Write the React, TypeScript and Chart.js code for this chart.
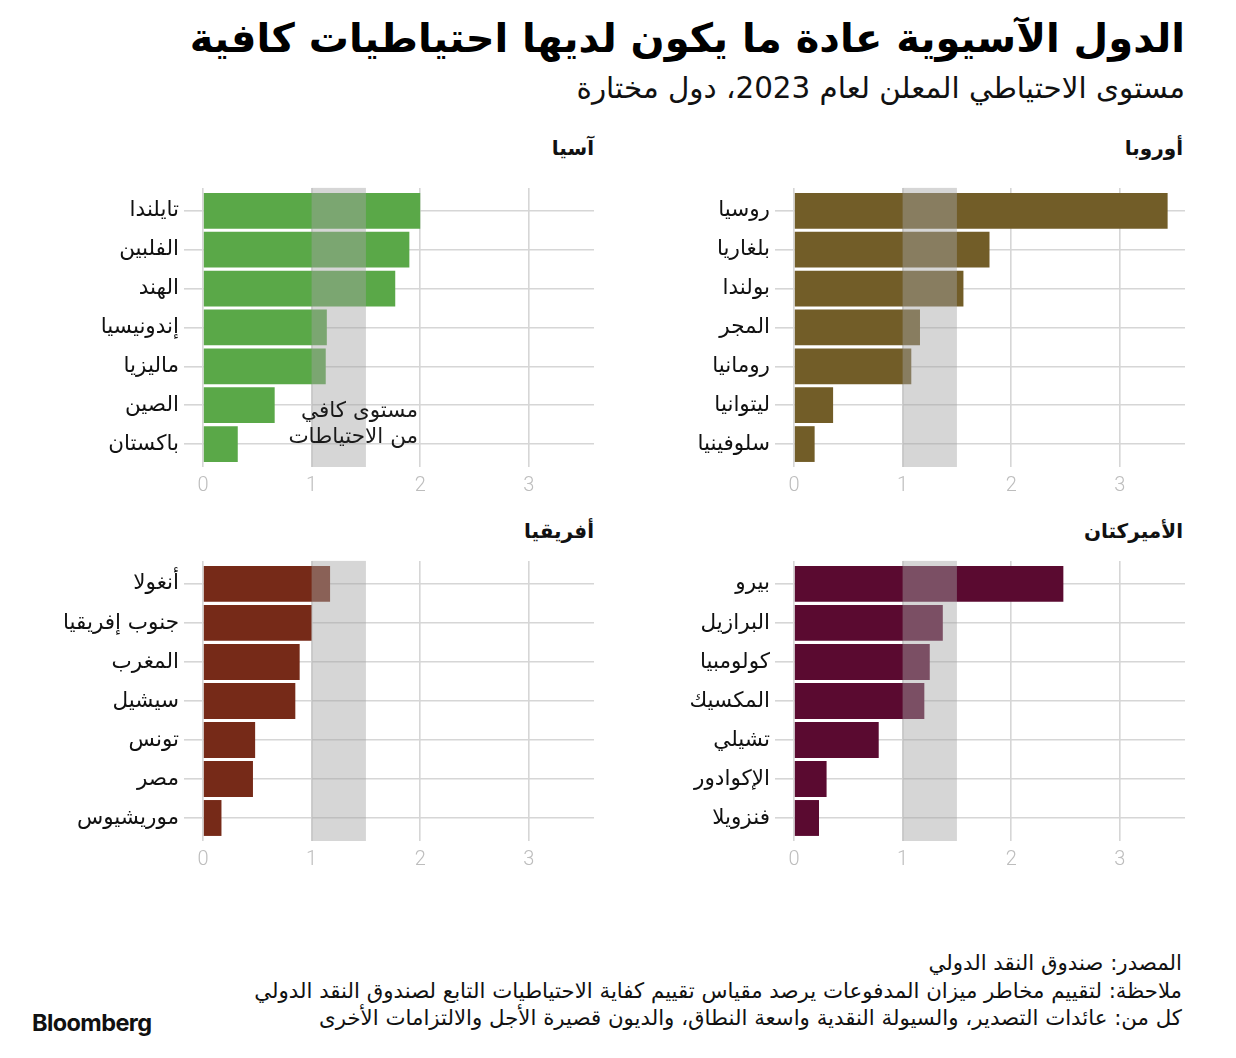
import React, { useEffect, useRef } from "react";
import { Chart, registerables } from "chart.js";

Chart.register(...registerables);

// ---------- data ----------
const europeCountries = ["روسيا", "بلغاريا", "بولندا", "المجر", "رومانيا", "ليتوانيا", "سلوفينيا"];
const europeValues = [3.44, 1.8, 1.56, 1.16, 1.08, 0.36, 0.19];

const asiaCountries = ["تايلندا", "الفلبين", "الهند", "إندونيسيا", "ماليزيا", "الصين", "باكستان"];
const asiaValues = [2.0, 1.9, 1.77, 1.14, 1.13, 0.66, 0.32];

const americasCountries = ["بيرو", "البرازيل", "كولومبيا", "المكسيك", "تشيلي", "الإكوادور", "فنزويلا"];
const americasValues = [2.48, 1.37, 1.25, 1.2, 0.78, 0.3, 0.23];

const africaCountries = ["أنغولا", "جنوب إفريقيا", "المغرب", "سيشيل", "تونس", "مصر", "موريشيوس"];
const africaValues = [1.17, 1.0, 0.89, 0.85, 0.48, 0.46, 0.17];

const xTicks = [0, 1, 2, 3];
const xMin = 0;
const xMax = 3.6;
const adequateBand = [1, 1.5];
const annotationLines = ["مستوى كافي", "من الاحتياطات"];
const annotationAnchor = { x: 1.98, y: 5.15 };

const titleText = "الدول الآسيوية عادة ما يكون لديها احتياطيات كافية";
const subtitleText = "مستوى الاحتياطي المعلن لعام 2023، دول مختارة";
const footerLines = [
  "المصدر: صندوق النقد الدولي",
  "ملاحظة: لتقييم مخاطر ميزان المدفوعات يرصد مقياس تقييم كفاية الاحتياطيات التابع لصندوق النقد الدولي",
  "كل من: عائدات التصدير، والسيولة النقدية واسعة النطاق، والديون قصيرة الأجل والالتزامات الأخرى",
];

const AR_FONT = "'DejaVu Sans', sans-serif";
const GRID = "#d6d6d6";

// ---------- plugin: adequacy band + annotation ----------
const bandPlugin = {
  id: "bandPlugin",
  afterDatasetsDraw(chart: any, _args: any, opts: any) {
    const { ctx, chartArea, scales } = chart;
    const x = scales.x;
    const y = scales.y;
    const x0 = x.getPixelForValue(adequateBand[0]);
    const x1 = x.getPixelForValue(adequateBand[1]);
    ctx.save();
    ctx.fillStyle = "rgba(165,165,165,0.45)";
    ctx.fillRect(x0, chartArea.top, x1 - x0, chartArea.bottom - chartArea.top);
    if (opts && opts.annotate) {
      ctx.fillStyle = "#1a1a1a";
      ctx.font = "21.5px " + AR_FONT;
      ctx.textAlign = "right";
      ctx.textBaseline = "middle";
      const ax = x.getPixelForValue(annotationAnchor.x);
      const ay = y.getPixelForValue(annotationAnchor.y);
      annotationLines.forEach((line, i) => {
        ctx.fillText(line, ax, ay + i * 26);
      });
    }
    ctx.restore();
  },
};

type PanelProps = {
  countries: string[];
  values: number[];
  color: string;
  left: number;
  top: number;
  height: number;
  annotate?: boolean;
};

function Panel({ countries, values, color, left, top, height, annotate }: PanelProps) {
  const ref = useRef<HTMLCanvasElement | null>(null);
  useEffect(() => {
    if (!ref.current) return;
    const chart = new Chart(ref.current, {
      type: "bar",
      data: {
        datasets: [
          {
            data: values.map((v, i) => ({ x: v, y: i })),
            backgroundColor: color,
            borderWidth: 0,
            barPercentage: 0.92,
            categoryPercentage: 1,
          },
        ],
      },
      options: {
        indexAxis: "y",
        animation: false,
        responsive: false,
        maintainAspectRatio: false,
        layout: { padding: { top: 17, right: 5, left: 0, bottom: 0 } },
        plugins: {
          legend: { display: false },
          tooltip: { enabled: false },
          bandPlugin: { annotate: !!annotate },
        } as any,
        scales: {
          x: {
            type: "linear",
            min: xMin,
            max: xMax,
            offset: false,
            position: "bottom",
            afterBuildTicks: (s: any) => {
              s.ticks = xTicks.map((v) => ({ value: v }));
            },
            afterFit: (s: any) => {
              s.height = 40;
            },
            grid: { color: GRID, lineWidth: 1.6, drawTicks: false, offset: false },
            border: { display: false },
            ticks: {
              color: "#bdbdbd",
              padding: 7,
              font: { family: "Roboto, sans-serif", size: 20, weight: 300 },
            },
          },
          y: {
            type: "linear",
            reverse: true,
            offset: false,
            min: -0.59,
            max: countries.length - 1 + 0.59,
            afterBuildTicks: (s: any) => {
              s.ticks = countries.map((_, i) => ({ value: i }));
            },
            afterFit: (s: any) => {
              s.width = 180;
            },
            grid: {
              color: GRID,
              lineWidth: 1.6,
              drawTicks: true,
              tickLength: 19,
              tickColor: GRID,
              offset: false,
            },
            border: { display: false },
            ticks: {
              autoSkip: false,
              padding: 5,
              color: "#111",
              font: { family: AR_FONT, size: 21.5 },
              callback: (v: any) => countries[Math.round(Number(v))] ?? "",
            },
          },
        },
      } as any,
      plugins: [bandPlugin as any],
    });
    return () => chart.destroy();
  }, []);
  return (
    <canvas
      ref={ref}
      width={576}
      height={height}
      style={{ position: "absolute", left, top, width: 576, height, display: "block" }}
    />
  );
}

const heading: React.CSSProperties = {
  position: "absolute",
  direction: "rtl",
  fontFamily: AR_FONT,
  fontWeight: 700,
  fontSize: 20,
  lineHeight: "24px",
  color: "#111",
  whiteSpace: "nowrap",
};

export default function App() {
  return (
    <div
      style={{
        position: "absolute",
        left: 0,
        top: 0,
        width: 1236,
        height: 1058,
        background: "#fff",
        overflow: "hidden",
      }}
    >
      <div
        dir="rtl"
        style={{
          position: "absolute",
          right: 51,
          top: 14,
          fontFamily: AR_FONT,
          fontWeight: 700,
          fontSize: 40,
          lineHeight: "48px",
          color: "#000",
          whiteSpace: "nowrap",
        }}
      >
        {titleText}
      </div>
      <div
        dir="rtl"
        style={{
          position: "absolute",
          right: 51,
          top: 71,
          fontFamily: AR_FONT,
          fontSize: 29.4,
          lineHeight: "34px",
          color: "#111",
          whiteSpace: "nowrap",
        }}
      >
        {subtitleText}
      </div>

      <div style={{ ...heading, right: 53, top: 136 }}>أوروبا</div>
      <div style={{ ...heading, right: 642, top: 136 }}>آسيا</div>
      <div style={{ ...heading, right: 53, top: 519 }}>الأميركتان</div>
      <div style={{ ...heading, right: 642, top: 519 }}>أفريقيا</div>

      <Panel countries={europeCountries} values={europeValues} color="#725d28" left={614} top={170} height={337} />
      <Panel countries={asiaCountries} values={asiaValues} color="#5aa848" left={23} top={170} height={337} annotate />
      <Panel countries={americasCountries} values={americasValues} color="#5a0a30" left={614} top={543} height={338} />
      <Panel countries={africaCountries} values={africaValues} color="#762a18" left={23} top={543} height={338} />

      <div
        dir="rtl"
        style={{
          position: "absolute",
          right: 54,
          top: 949,
          fontFamily: AR_FONT,
          fontSize: 21.3,
          lineHeight: "27.5px",
          color: "#111",
          whiteSpace: "nowrap",
        }}
      >
        {footerLines.map((l, i) => (
          <div key={i}>{l}</div>
        ))}
      </div>
      <div
        style={{
          position: "absolute",
          left: 32,
          top: 1008,
          fontFamily: "Inter, 'Liberation Sans', sans-serif",
          fontWeight: 700,
          fontSize: 23.5,
          letterSpacing: -0.6,
          color: "#111",
        }}
      >
        Bloomberg
      </div>
    </div>
  );
}
